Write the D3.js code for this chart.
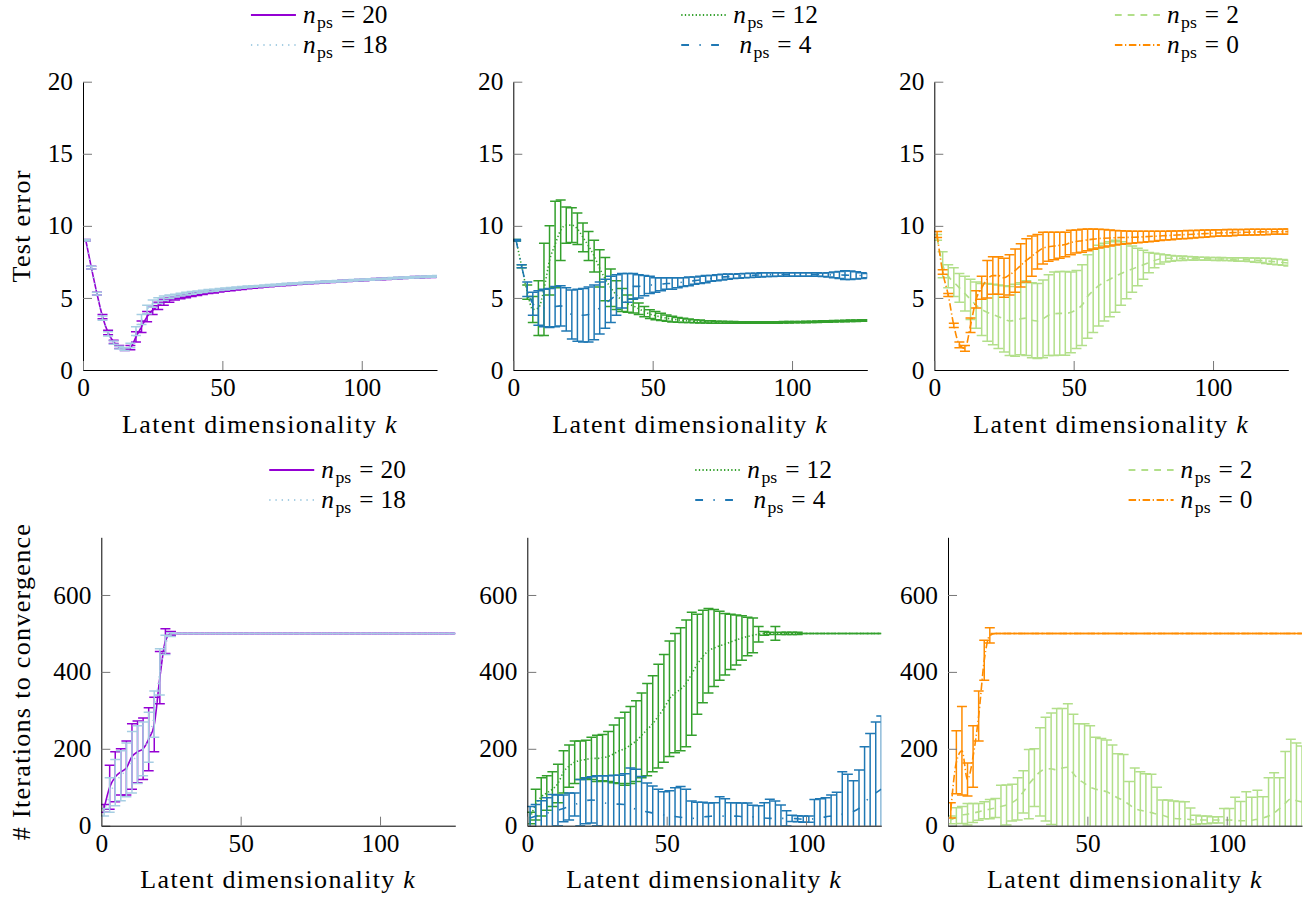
<!DOCTYPE html>
<html>
<head>
<meta charset="utf-8">
<script src="https://cdn.jsdelivr.net/npm/d3@7"></script>
<style>
  body { margin: 0; background: #fff; }
  svg { display: block; }
</style>
</head>
<body>
<svg id="chart" width="1307" height="898"></svg>
<script>
// ---------------- DATA ----------------
const kValues = [1,3,5,7,9,11,13,15,17,19,21,23,25,27,29,31,33,35,37,39,41,43,45,47,49,51,53,55,57,59,61,63,
  65,67,69,71,73,75,77,79,81,83,85,87,89,91,93,95,97,99,101,103,105,107,109,111,113,115,117,119,121,123,125,127];
const kTicks = [0, 50, 100];
const errorTicks = [0, 5, 10, 15, 20];
const iterTicks = [0, 200, 400, 600];

// --- Test error ---
const errMeanN20 = [9.0,7.1,5.3,3.7,2.6,1.95,1.6,1.45,1.55,2.3,
  3.0,3.7,4.15,4.45,4.7,4.85,4.97,5.05,5.12,5.2,
  5.26,5.32,5.38,5.43,5.48,5.53,5.57,5.61,5.65,5.69,
  5.73,5.76,5.8,5.83,5.86,5.89,5.92,5.95,5.98,6.0,
  6.03,6.05,6.08,6.1,6.12,6.15,6.17,6.19,6.21,6.23,
  6.25,6.27,6.29,6.31,6.33,6.35,6.37,6.39,6.41,6.43,
  6.44,6.46,6.47,6.49];
const errSdN20 = [0.05,0.1,0.1,0.15,0.15,0.12,0.1,0.1,0.15,0.35,
  0.4,0.35,0.3,0.25,0.2,0.15,0.12,0.1,0.1,0.1,
  0.1,0.08,0.08,0.08,0.07,0.07,0.07,0.06,0.06,0.06,
  0.06,0.05,0.05,0.05,0.05,0.05,0.05,0.05,0.05,0.05,
  0.05,0.05,0.05,0.05,0.05,0.05,0.05,0.05,0.05,0.05,
  0.05,0.05,0.05,0.05,0.05,0.05,0.05,0.05,0.05,0.05,
  0.05,0.05,0.05,0.05];
const errMeanN18 = [9.0,7.1,5.3,3.6,2.5,1.9,1.55,1.45,1.7,2.7,
  3.5,4.2,4.6,4.82,4.98,5.08,5.16,5.23,5.3,5.35,
  5.4,5.45,5.5,5.54,5.58,5.62,5.66,5.7,5.73,5.76,
  5.79,5.82,5.85,5.88,5.9,5.93,5.96,5.98,6.01,6.03,
  6.05,6.08,6.1,6.12,6.14,6.16,6.18,6.2,6.22,6.24,
  6.26,6.28,6.3,6.32,6.34,6.36,6.38,6.4,6.42,6.43,
  6.45,6.47,6.48,6.5];
const errSdN18 = [0.05,0.1,0.1,0.15,0.15,0.12,0.1,0.1,0.15,0.3,
  0.35,0.3,0.25,0.2,0.15,0.12,0.1,0.1,0.1,0.1,
  0.08,0.08,0.08,0.07,0.07,0.07,0.06,0.06,0.06,0.06,
  0.05,0.05,0.05,0.05,0.05,0.05,0.05,0.05,0.05,0.05,
  0.05,0.05,0.05,0.05,0.05,0.05,0.05,0.05,0.05,0.05,
  0.05,0.05,0.05,0.05,0.05,0.05,0.05,0.05,0.05,0.05,
  0.05,0.05,0.05,0.05];
const errMeanN12 = [9.0,7.2,5.4,4.2,4.3,5.6,7.6,8.7,9.7,10.05,
  10.05,9.8,9.2,8.6,7.9,7.05,6.3,5.7,5.2,4.85,
  4.6,4.45,4.25,4.05,3.88,3.77,3.68,3.6,3.53,3.48,
  3.44,3.41,3.38,3.36,3.34,3.33,3.32,3.31,3.3,3.3,
  3.3,3.3,3.3,3.3,3.3,3.3,3.3,3.3,3.31,3.31,
  3.32,3.32,3.33,3.34,3.35,3.36,3.37,3.38,3.39,3.4,
  3.41,3.42,3.43,3.44];
const errSdN12 = [0.05,0.1,0.5,0.9,1.9,3.2,2.4,3.0,2.1,1.25,
  1.2,1.1,1.0,1.0,1.1,1.3,1.5,1.3,1.0,0.8,
  0.6,0.5,0.4,0.35,0.3,0.28,0.25,0.22,0.2,0.17,
  0.15,0.12,0.1,0.1,0.08,0.08,0.07,0.07,0.06,0.06,
  0.05,0.05,0.05,0.05,0.05,0.05,0.05,0.05,0.05,0.05,
  0.05,0.05,0.05,0.05,0.05,0.05,0.05,0.05,0.05,0.05,
  0.05,0.05,0.05,0.05];
const errMeanN4 = [9.0,7.2,5.6,4.6,4.3,4.3,4.3,4.4,4.45,4.2,
  3.85,3.8,3.8,3.85,4.0,4.3,4.6,4.9,5.2,5.5,
  5.7,5.8,5.8,5.85,5.9,5.9,5.95,6.0,6.0,6.05,
  6.1,6.15,6.2,6.25,6.3,6.35,6.4,6.45,6.48,6.5,
  6.52,6.55,6.57,6.58,6.6,6.61,6.62,6.62,6.63,6.63,
  6.63,6.63,6.63,6.62,6.62,6.61,6.6,6.6,6.59,6.58,
  6.57,6.56,6.55,6.55];
const errSdN4 = [0.05,0.1,0.5,0.8,1.2,1.3,1.35,1.4,1.4,1.5,
  1.7,1.8,1.85,1.9,1.9,1.8,1.7,1.6,1.4,1.2,
  1.0,0.9,0.8,0.7,0.6,0.5,0.45,0.4,0.4,0.35,
  0.3,0.3,0.25,0.25,0.25,0.2,0.2,0.2,0.18,0.15,
  0.15,0.15,0.15,0.14,0.14,0.13,0.13,0.12,0.12,0.12,
  0.12,0.12,0.12,0.12,0.12,0.12,0.15,0.2,0.25,0.3,
  0.3,0.25,0.2,0.15];
const errMeanN2 = [9.2,7.3,6.5,6.1,5.7,5.3,4.9,4.5,4.2,4.0,
  3.85,3.7,3.55,3.4,3.45,3.55,3.6,3.45,3.4,3.55,
  3.8,3.9,3.93,3.93,4.0,4.2,4.5,5.1,5.5,5.85,
  6.1,6.3,6.5,6.7,6.85,7.0,7.15,7.3,7.45,7.6,
  7.7,7.75,7.75,7.75,7.75,7.75,7.74,7.73,7.72,7.71,
  7.7,7.7,7.69,7.68,7.67,7.66,7.65,7.62,7.6,7.57,
  7.53,7.5,7.46,7.42];
const errSdN2 = [0.2,0.9,0.8,1.0,1.0,1.2,1.4,1.6,1.8,2.0,
  2.1,2.2,2.3,2.4,2.5,2.5,2.6,2.6,2.6,2.7,
  2.8,2.9,2.9,2.9,2.8,2.7,2.8,2.9,2.9,2.8,
  2.7,2.6,2.5,2.2,1.9,1.6,1.3,1.0,0.7,0.5,
  0.35,0.25,0.2,0.15,0.15,0.12,0.12,0.1,0.1,0.1,
  0.1,0.1,0.1,0.1,0.12,0.12,0.12,0.15,0.15,0.18,
  0.2,0.2,0.2,0.2];
const errMeanN0 = [9.4,6.8,5.2,3.1,1.75,1.5,3.1,4.9,5.7,6.3,
  6.55,6.55,6.4,6.6,6.9,7.25,7.6,7.9,8.2,8.45,
  8.55,8.6,8.65,8.7,8.85,8.92,8.97,9.03,9.08,9.12,
  9.14,9.16,9.18,9.19,9.2,9.21,9.22,9.24,9.26,9.28,
  9.3,9.32,9.34,9.36,9.38,9.4,9.42,9.44,9.46,9.48,
  9.5,9.51,9.52,9.53,9.54,9.55,9.56,9.57,9.58,9.58,
  9.59,9.59,9.6,9.6];
const errSdN0 = [0.2,0.15,0.1,0.15,0.2,0.2,0.5,0.6,0.8,1.3,
  1.3,1.3,1.35,1.4,1.5,1.5,1.5,1.4,1.2,1.1,
  1.0,0.95,0.9,0.85,0.85,0.8,0.8,0.75,0.7,0.65,
  0.6,0.55,0.5,0.47,0.45,0.42,0.4,0.38,0.36,0.34,
  0.32,0.3,0.3,0.28,0.28,0.27,0.26,0.25,0.25,0.24,
  0.23,0.22,0.22,0.21,0.2,0.2,0.2,0.2,0.19,0.19,
  0.18,0.18,0.18,0.18];

// --- Iterations to convergence ---
const itMeanN20 = [45,100,127,140,150,180,192,200,225,263,
  385,480,500,500,500,500,500,500,500,500,
  500,500,500,500,500,500,500,500,500,500,
  500,500,500,500,500,500,500,500,500,500,
  500,500,500,500,500,500,500,500,500,500,
  500,500,500,500,500,500,500,500,500,500,
  500,500,500,500];
const itSdN20 = [10,57,65,60,70,85,80,80,82,71,
  68,32,5,0,0,0,0,0,0,0,
  0,0,0,0,0,0,0,0,0,0,
  0,0,0,0,0,0,0,0,0,0,
  0,0,0,0,0,0,0,0,0,0,
  0,0,0,0,0,0,0,0,0,0,
  0,0,0,0];
const itMeanN18 = [35,80,112,130,145,165,185,200,230,290,
  400,470,497,500,500,500,500,500,500,500,
  500,500,500,500,500,500,500,500,500,500,
  500,500,500,500,500,500,500,500,500,500,
  500,500,500,500,500,500,500,500,500,500,
  500,500,500,500,500,500,500,500,500,500,
  500,500,500,500];
const itSdN18 = [10,45,60,65,70,80,75,70,65,60,
  60,25,5,0,0,0,0,0,0,0,
  0,0,0,0,0,0,0,0,0,0,
  0,0,0,0,0,0,0,0,0,0,
  0,0,0,0,0,0,0,0,0,0,
  0,0,0,0,0,0,0,0,0,0,
  0,0,0,0];
const itMeanN12 = [20,55,75,85,95,110,140,155,165,170,
  172,175,175,177,180,187,195,200,210,220,
  235,250,265,285,305,330,345,355,370,395,
  420,440,455,462,468,472,478,483,488,492,
  495,498,500,500,500,500,500,500,500,500,
  500,500,500,500,500,500,500,500,500,500,
  500,500,500,500];
const itSdN12 = [15,40,50,45,45,50,55,55,55,50,
  50,55,60,60,65,75,85,95,100,105,
  110,120,125,135,140,150,155,160,165,160,
  130,120,110,100,90,80,72,65,58,50,
  45,20,5,3,18,3,3,3,3,0,
  0,0,0,0,0,0,0,0,0,0,
  0,0,0,0];
const itMeanN4 = [20,25,30,33,36,40,45,50,55,60,
  65,67,65,60,58,56,56,55,50,42,
  38,36,33,30,28,26,24,22,20,19,
  21,23,24,25,25,25,25,25,24,24,
  23,22,20,19,19,19,19,19,18,17,
  17,18,20,23,25,27,30,34,37,45,
  60,75,85,95];
const itSdN4 = [30,30,35,40,45,40,35,35,30,60,
  60,60,65,70,72,75,75,80,100,105,
  90,75,70,65,60,65,75,80,75,45,
  40,38,35,35,50,45,35,35,35,35,
  30,30,40,50,45,35,20,8,8,8,
  8,50,50,50,55,60,110,100,80,100,
  145,165,185,190];
const itMeanN2 = [15,22,28,30,33,36,40,43,46,50,
  54,60,70,88,108,125,140,147,148,145,
  150,152,135,120,110,100,95,92,88,80,
  72,65,55,45,40,37,34,30,27,22,
  19,18,17,16,15,15,15,15,15,15,
  15,14,13,13,14,17,20,25,33,45,
  58,70,65,62];
const itSdN2 = [10,25,22,28,25,22,22,25,25,55,
  52,48,55,55,90,75,115,135,145,160,
  155,165,155,145,155,160,135,135,135,130,
  115,120,60,105,100,98,100,70,40,45,
  45,45,45,30,12,10,10,8,8,30,
  30,60,50,75,60,75,55,100,105,80,
  135,155,150,145];
const itMeanN0 = [40,165,195,120,180,285,430,495,500,500,
  500,500,500,500,500,500,500,500,500,500,
  500,500,500,500,500,500,500,500,500,500,
  500,500,500,500,500,500,500,500,500,500,
  500,500,500,500,500,500,500,500,500,500,
  500,500,500,500,500,500,500,500,500,500,
  500,500,500,500];
const itSdN0 = [20,82,115,43,80,65,52,20,0,0,
  0,0,0,0,0,0,0,0,0,0,
  0,0,0,0,0,0,0,0,0,0,
  0,0,0,0,0,0,0,0,0,0,
  0,0,0,0,0,0,0,0,0,0,
  0,0,0,0,0,0,0,0,0,0,
  0,0,0,0];

// ---------------- FONT SELECTION ----------------
const measureCtx = document.createElement('canvas').getContext('2d');
function measure(family, size, str) {
  measureCtx.font = `${size}px ${family}`;
  return measureCtx.measureText(str).width;
}
function fontAvailable(name) {
  const probe = 'Latent dimensionality 0123456789 mmmWWWiii';
  return measure(`"${name}", monospace`, 40, probe) !== measure('monospace', 40, probe) ||
         measure(`"${name}", sans-serif`, 40, probe) !== measure('sans-serif', 40, probe);
}
const fontCandidates = ['Liberation Serif', 'Tinos', 'Times New Roman', 'DejaVu Serif', 'FreeSerif', 'Noto Serif'];
const chosenFont = fontCandidates.find(fontAvailable);
const FONT = chosenFont ? `"${chosenFont}", serif` : 'serif';
const tickSize = Math.min(26, 25.5 * 38 / measure(FONT, 25.5, '100'));
let labelSize = 26;
let labelW = measure(FONT, labelSize, 'Latent dimensionality k');
if (labelW > 276) { labelSize = 26 * 276 / labelW; labelW = 276; }
const labelSpacing = Math.max(0, (276 - labelW) / 22);

// ---------------- STYLE ----------------
const seriesStyle = {
  n20: { label: '20', color: '#9400d3', dash: null },
  n18: { label: '18', color: '#a6cee3', dash: '1.3,4.9' },
  n12: { label: '12', color: '#33a02c', dash: '1.3,2.3' },
  n4:  { label: '4',  color: '#1f78b4', dash: '7.8,10.4,1.3,10.4' },
  n2:  { label: '2',  color: '#b2df8a', dash: '6.8,6' },
  n0:  { label: '0',  color: '#ff8c00', dash: '7.5,2.6,1.3,2.6' }
};

const topRow = { top: 81.7, bottom: 370, yDomain: [0, 20], yTicks: errorTicks, legendY: [15, 45], ylabel: 'Test error' };
const botRow = { top: 537.3, bottom: 825.7, yDomain: [0, 750], yTicks: iterTicks, legendY: [470, 500], ylabel: '# Iterations to convergence' };

const panels = [
  { row: topRow, left: 83,    showY: true,  series: [['n20', errMeanN20, errSdN20], ['n18', errMeanN18, errSdN18]] },
  { row: topRow, left: 513.3, showY: false, series: [['n12', errMeanN12, errSdN12], ['n4', errMeanN4, errSdN4]] },
  { row: topRow, left: 934.3, showY: false, series: [['n2', errMeanN2, errSdN2], ['n0', errMeanN0, errSdN0]] },
  { row: botRow, left: 101.3, showY: true,  series: [['n20', itMeanN20, itSdN20], ['n18', itMeanN18, itSdN18]] },
  { row: botRow, left: 527.3, showY: false, series: [['n12', itMeanN12, itSdN12], ['n4', itMeanN4, itSdN4]] },
  { row: botRow, left: 948,   showY: false, series: [['n2', itMeanN2, itSdN2], ['n0', itMeanN0, itSdN0]] }
];
const plotWidth = 354;

// ---------------- DRAW ----------------
const svg = d3.select('#chart');
svg.append('rect').attr('width', 1307).attr('height', 898).attr('fill', '#fff');

function legendLabel(sel, num) {
  const sub = tickSize * 0.7;
  sel.append('tspan').attr('font-style', 'italic').text('n');
  sel.append('tspan').attr('font-size', sub).attr('dx', 1.5).attr('dy', 5).text('ps');
  sel.append('tspan').attr('dy', -5).attr('dx', 8).text('=');
  sel.append('tspan').attr('dx', 7).text(num);
}

panels.forEach((p, pi) => {
  const r = p.row;
  const x = d3.scaleLinear().domain([0, 127]).range([p.left, p.left + plotWidth]);
  const y = d3.scaleLinear().domain(r.yDomain).range([r.bottom, r.top]);

  const clipId = 'clip' + pi;
  svg.append('clipPath').attr('id', clipId).append('rect')
    .attr('x', p.left).attr('y', r.top).attr('width', plotWidth).attr('height', r.bottom - r.top);

  const g = svg.append('g').attr('clip-path', `url(#${clipId})`);

  p.series.forEach(([key, mean, sd]) => {
    const st = seriesStyle[key];
    const pts = kValues.map((k, i) => ({ k, m: mean[i], s: sd[i] }));
    // mean line
    const line = d3.line().x(d => x(d.k)).y(d => y(d.m)).curve(d3.curveMonotoneX);
    g.append('path').datum(pts).attr('d', line)
      .attr('fill', 'none').attr('stroke', st.color).attr('stroke-width', 1.6)
      .attr('stroke-dasharray', st.dash);
    // error bars
    g.append('g').attr('stroke', st.color).attr('stroke-width', 1.5).attr('fill', 'none')
      .selectAll('path').data(pts).join('path')
      .attr('d', d => {
        const xc = x(d.k), y1 = y(d.m - d.s), y2 = y(d.m + d.s);
        return `M${xc},${y1}V${y2}M${xc - 5},${y1}H${xc + 5}M${xc - 5},${y2}H${xc + 5}`;
      });
  });

  // axes
  const yAxis = d3.axisLeft(y).tickValues(r.yTicks).tickSizeInner(-9).tickSizeOuter(0).tickPadding(10).tickFormat(d3.format('d'));
  const xAxis = d3.axisBottom(x).tickValues(kTicks).tickSizeInner(-9).tickSizeOuter(0).tickPadding(8.5).tickFormat(d3.format('d'));
  [[yAxis, `translate(${p.left},0)`], [xAxis, `translate(0,${r.bottom})`]].forEach(([ax, tr]) => {
    const ga = svg.append('g').attr('transform', tr).call(ax)
      .attr('font-family', FONT).attr('font-size', tickSize);
    ga.select('.domain').attr('stroke', '#000').attr('stroke-width', 1);
    ga.selectAll('.tick line').attr('stroke', '#777').attr('stroke-width', 1);
    ga.selectAll('.tick text').attr('fill', '#000');
  });

  // x label
  const xl = svg.append('text').attr('x', p.left + plotWidth / 2).attr('y', r.bottom + 62.5)
    .attr('text-anchor', 'middle').attr('font-family', FONT).attr('font-size', labelSize)
    .attr('letter-spacing', labelSpacing).attr('fill', '#000');
  xl.append('tspan').text('Latent dimensionality ');
  xl.append('tspan').attr('font-style', 'italic').text('k');

  // y label
  if (p.showY) {
    const cy = (r.top + r.bottom) / 2;
    svg.append('text').attr('transform', `translate(30,${cy}) rotate(-90)`)
      .attr('text-anchor', 'middle').attr('font-family', FONT).attr('font-size', labelSize)
      .attr('letter-spacing', labelSpacing).attr('fill', '#000').text(r.ylabel);
  }

  // legend
  const right = p.left + plotWidth;
  const xr = right - 49.5;
  const lg = svg.append('g').attr('font-family', FONT).attr('font-size', tickSize);
  const texts = p.series.map(([key], j) => {
    const t = lg.append('text').attr('x', 0).attr('y', r.legendY[j] + 8).attr('fill', '#000');
    legendLabel(t, seriesStyle[key].label);
    return t;
  });
  const widths = texts.map(t => t.node().getBBox().width);
  const w = d3.max(widths);
  texts.forEach((t, j) => t.attr('x', xr - w / 2 - widths[j] / 2));
  p.series.forEach(([key], j) => {
    const st = seriesStyle[key];
    lg.append('line').attr('x1', xr - w - 52).attr('x2', xr - w - 7)
      .attr('y1', r.legendY[j]).attr('y2', r.legendY[j])
      .attr('stroke', st.color).attr('stroke-width', 2).attr('stroke-dasharray', st.dash);
  });
});
</script>
</body>
</html>
